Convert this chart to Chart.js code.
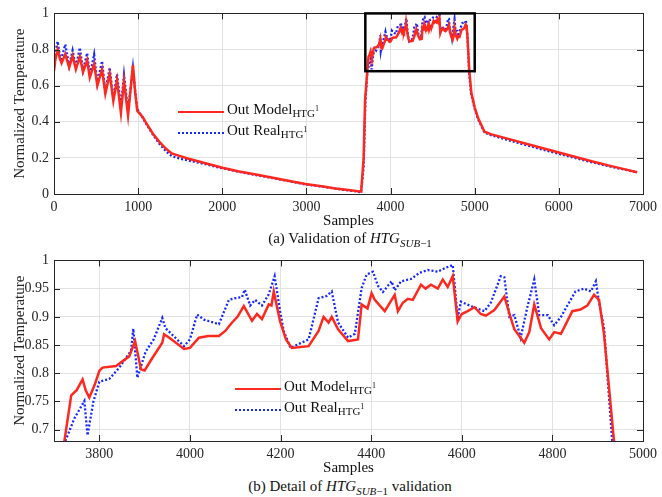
<!DOCTYPE html>
<html>
<head>
<meta charset="utf-8">
<script src="https://cdn.jsdelivr.net/npm/chart.js@4.4.1/dist/chart.umd.min.js"></script>
<style>
  body { margin: 0; background: #fff; }
  #wrap { position: relative; width: 662px; height: 497px; font-family: "Liberation Serif", "Times New Roman", Times, serif; color: #262626; }
  canvas { position: absolute; left: 0; }
  .caption { position: absolute; left: 54px; width: 592px; text-align: center; font-size: 15px; color: #111; }
  .legend { position: absolute; font-size: 15px; color: #111; }
  .legend .row { position: relative; height: 21px; white-space: nowrap; }
  .legend .swatch { position: absolute; left: 0; width: 46px; top: 10px; }
  .legend .txt { position: absolute; left: 49px; top: 0; }
  .legend sub { font-size: 11px; vertical-align: -3px; }
  .legend sup { font-size: 8px; vertical-align: 6px; }
  .caption sub { font-size: 11px; vertical-align: -4px; }
</style>
</head>
<body>
<div id="wrap">
  <canvas id="chartTop" width="662" height="230" style="top:0"></canvas>
  <canvas id="chartBottom" width="662" height="230" style="top:247px"></canvas>
  <div class="legend" style="left:178px; top:101px;">
    <div class="row"><div class="swatch" style="border-top:2.5px solid rgb(255,40,30)"></div><span class="txt">Out Model<sub>HTG<sup>1</sup></sub></span></div>
    <div class="row"><div class="swatch" style="border-top:2.5px dotted rgb(20,40,255)"></div><span class="txt">Out Real<sub>HTG<sup>1</sup></sub></span></div>
  </div>
  <div class="legend" style="left:235px; top:378px;">
    <div class="row"><div class="swatch" style="border-top:2.5px solid rgb(255,40,30)"></div><span class="txt">Out Model<sub>HTG<sup>1</sup></sub></span></div>
    <div class="row"><div class="swatch" style="border-top:2.5px dotted rgb(20,40,255)"></div><span class="txt">Out Real<sub>HTG<sup>1</sup></sub></span></div>
  </div>
  <div class="caption" style="top:230px;">(a) Validation of <i>HTG</i><sub><i>SUB</i>−1</sub></div>
  <div class="caption" style="top:478px;">(b) Detail of <i>HTG</i><sub><i>SUB</i>−1</sub> validation</div>
</div>
<script>
// Datos: muestra (x) y temperatura normalizada (y)
const modelX = [0, 15, 43, 70, 90, 134, 180, 221, 260, 307, 345, 394, 425, 477, 515, 571, 610, 662, 705, 749, 795, 832, 880, 938, 965, 990,
  1056, 1100, 1174, 1250, 1332, 1400, 1500, 1600, 1800, 2002, 2200, 2400, 2600, 2800, 2988, 3200, 3343, 3500, 3650, 3680, 3697,
  3723, 3738, 3750, 3763, 3770, 3778, 3790, 3800, 3807, 3837, 3866, 3879, 3892, 3900, 3917, 3939, 3943, 3956, 3987, 4000, 4020,
  4040, 4064, 4078, 4093, 4105, 4119, 4137, 4148, 4159, 4174, 4180, 4185, 4199, 4212, 4225, 4262, 4284, 4295, 4306, 4313, 4327,
  4349, 4371, 4379, 4392, 4401, 4408, 4430, 4452, 4459, 4470, 4481, 4492, 4510, 4520, 4532, 4547, 4558, 4569, 4580, 4591, 4600,
  4613, 4628, 4642, 4653, 4672, 4694, 4705, 4716, 4738, 4749, 4760, 4775, 4793, 4804, 4819, 4844, 4862, 4877, 4892, 4903, 4914,
  4936, 4960, 5000, 5040, 5116, 5200, 5400, 5600, 5800, 6000, 6200, 6400, 6600, 6800, 6930];
const modelY = [0.68, 0.74, 0.80, 0.75, 0.725, 0.775, 0.70, 0.765, 0.69, 0.76, 0.675, 0.74, 0.645, 0.72, 0.60, 0.69, 0.555, 0.665, 0.515, 0.63, 0.45, 0.625, 0.435, 0.715, 0.56, 0.46,
  0.425, 0.39, 0.335, 0.29, 0.25, 0.225, 0.21, 0.195, 0.17, 0.145, 0.125, 0.108, 0.09, 0.072, 0.055, 0.042, 0.031, 0.022, 0.013, 0.2, 0.52,
  0.68, 0.761, 0.77, 0.789, 0.77, 0.757, 0.78, 0.804, 0.81, 0.813, 0.83, 0.857, 0.807, 0.805, 0.827, 0.854, 0.869, 0.862, 0.843, 0.845, 0.863,
  0.866, 0.866, 0.875, 0.89, 0.90, 0.919, 0.893, 0.905, 0.896, 0.922, 0.92, 0.945, 0.892, 0.86, 0.845, 0.848, 0.875, 0.90, 0.89, 0.90, 0.878,
  0.857, 0.86, 0.922, 0.915, 0.942, 0.93, 0.91, 0.939, 0.91, 0.925, 0.932, 0.93, 0.957, 0.95, 0.957, 0.95, 0.966, 0.953, 0.972, 0.892, 0.905,
  0.91, 0.917, 0.905, 0.902, 0.912, 0.936, 0.906, 0.878, 0.854, 0.873, 0.922, 0.88, 0.86, 0.873, 0.87, 0.91, 0.913, 0.92, 0.939, 0.93, 0.869,
  0.68, 0.56, 0.48, 0.42, 0.345, 0.33, 0.305, 0.28, 0.255, 0.23, 0.205, 0.18, 0.157, 0.135, 0.12];

const realX = [0, 15, 43, 80, 134, 180, 221, 260, 307, 345, 394, 425, 477, 515, 571, 610, 662, 705, 749, 795, 832, 880, 938, 965, 990,
  1056, 1100, 1174, 1250, 1332, 1400, 1500, 1600, 1800, 2002, 2200, 2400, 2600, 2800, 2988, 3200, 3343, 3500, 3650, 3680, 3700,
  3725, 3745, 3767, 3774, 3787, 3800, 3822, 3844, 3870, 3875, 3884, 3902, 3920, 3939, 3946, 3987, 4000, 4016, 4031, 4064, 4086,
  4100, 4115, 4121, 4133, 4144, 4159, 4174, 4187, 4199, 4207, 4222, 4262, 4284, 4302, 4313, 4327, 4349, 4364, 4379, 4390, 4404,
  4415, 4426, 4445, 4452, 4466, 4488, 4507, 4525, 4547, 4562, 4580, 4591, 4598, 4620, 4650, 4664, 4686, 4694, 4705, 4716, 4730,
  4745, 4760, 4771, 4790, 4804, 4819, 4833, 4851, 4870, 4885, 4896, 4903, 4914, 4932, 4955, 5000, 5040, 5116, 5200, 5400, 5600,
  5800, 6000, 6200, 6400, 6600, 6800, 6930];
const realY = [0.70, 0.78, 0.845, 0.735, 0.828, 0.71, 0.795, 0.70, 0.81, 0.685, 0.78, 0.655, 0.773, 0.615, 0.736, 0.565, 0.70, 0.525, 0.663, 0.48, 0.66, 0.46, 0.70, 0.57, 0.47,
  0.42, 0.385, 0.33, 0.28, 0.235, 0.21, 0.195, 0.185, 0.165, 0.142, 0.123, 0.105, 0.088, 0.07, 0.053, 0.04, 0.03, 0.02, 0.01, 0.15, 0.50,
  0.68, 0.72, 0.751, 0.69, 0.75, 0.785, 0.79, 0.81, 0.84, 0.879, 0.792, 0.838, 0.86, 0.898, 0.88, 0.848, 0.86, 0.904, 0.895, 0.887, 0.93,
  0.933, 0.935, 0.948, 0.92, 0.93, 0.92, 0.94, 0.972, 0.91, 0.875, 0.845, 0.86, 0.933, 0.937, 0.945, 0.89, 0.863, 0.87, 0.951, 0.975, 0.98,
  0.955, 0.944, 0.963, 0.947, 0.963, 0.967, 0.978, 0.983, 0.98, 0.986, 0.992, 0.898, 0.927, 0.919, 0.91, 0.925, 0.972, 0.97, 0.90, 0.903, 0.863,
  0.918, 0.966, 0.903, 0.903, 0.885, 0.90, 0.92, 0.945, 0.95, 0.945, 0.963, 0.925, 0.88, 0.68, 0.56, 0.47, 0.415, 0.34, 0.325, 0.298, 0.272,
  0.247, 0.222, 0.198, 0.175, 0.153, 0.133, 0.12];

// Marcas de los ejes
const xTicksTop = [0, 1000, 2000, 3000, 4000, 5000, 6000, 7000];
const yTicksTop = [0, 0.2, 0.4, 0.6, 0.8, 1];
const xTicksBottom = [3800, 4000, 4200, 4400, 4600, 4800, 5000];
const yTicksBottom = [0.7, 0.75, 0.8, 0.85, 0.9, 0.95, 1];

// Rango del detalle (recuadro negro en la figura de arriba)
const detailRange = { xMin: 3700, xMax: 5000, yMin: 0.68, yMax: 1 };

const modelColor = 'rgb(255, 40, 30)';
const realColor = 'rgb(20, 40, 255)';

Chart.defaults.font.family = '"Liberation Serif", "Times New Roman", Times, serif';
Chart.defaults.color = '#262626';

function toPoints(xs, ys) {
    return xs.map((x, i) => ({ x: x, y: ys[i] }));
}

// Marco tipo MATLAB con marcas hacia dentro y recuadro opcional
const framePlugin = {
    id: 'frame',
    afterDatasetsDraw(chart, args, opts) {
        const { ctx, chartArea: a, scales } = chart;
        ctx.save();
        ctx.strokeStyle = '#262626';
        ctx.lineWidth = 1;
        ctx.strokeRect(Math.round(a.left) + 0.5, Math.round(a.top) + 0.5, Math.round(a.right - a.left), Math.round(a.bottom - a.top));
        ctx.beginPath();
        scales.x.ticks.forEach(t => {
            const px = Math.round(scales.x.getPixelForValue(t.value)) + 0.5;
            ctx.moveTo(px, a.bottom); ctx.lineTo(px, a.bottom - 6);
            ctx.moveTo(px, a.top); ctx.lineTo(px, a.top + 6);
        });
        scales.y.ticks.forEach(t => {
            const py = Math.round(scales.y.getPixelForValue(t.value)) + 0.5;
            ctx.moveTo(a.left, py); ctx.lineTo(a.left + 6, py);
            ctx.moveTo(a.right, py); ctx.lineTo(a.right - 6, py);
        });
        ctx.stroke();
        if (opts.box) {
            const b = opts.box;
            const x0 = scales.x.getPixelForValue(b.xMin), x1 = scales.x.getPixelForValue(b.xMax);
            const y0 = scales.y.getPixelForValue(b.yMax), y1 = scales.y.getPixelForValue(b.yMin);
            ctx.strokeStyle = '#000';
            ctx.lineWidth = 2.5;
            ctx.strokeRect(x0, y0, x1 - x0, y1 - y0);
        }
        ctx.restore();
    }
};

function makeChart(id, xRange, yRange, xTicks, yTicks, yLabel, box) {
    const ctx = document.getElementById(id).getContext('2d');
    return new Chart(ctx, {
        type: 'line',
        data: {
            datasets: [{
                label: 'Out Model',
                data: toPoints(modelX, modelY),
                borderColor: modelColor,
                borderWidth: 2.5,
                pointRadius: 0,
                tension: 0,
                clip: 0
            }, {
                label: 'Out Real',
                data: toPoints(realX, realY),
                borderColor: realColor,
                borderWidth: 2.3,
                borderDash: [2, 2],
                pointRadius: 0,
                tension: 0,
                clip: 0
            }]
        },
        options: {
            responsive: false,
            animation: false,
            layout: { padding: { top: 12, right: 16, left: 0, bottom: 0 } },
            plugins: {
                legend: { display: false },
                tooltip: { enabled: false },
                frame: { box: box }
            },
            scales: {
                x: {
                    type: 'linear',
                    min: xRange[0],
                    max: xRange[1],
                    afterBuildTicks: s => { s.ticks = xTicks.map(v => ({ value: v })); },
                    afterFit: s => { s.height = 36; },
                    grid: { color: '#e2e2e2', drawTicks: false },
                    border: { display: false },
                    ticks: { font: { size: 14 }, padding: 5, maxRotation: 0, callback: v => String(v) },
                    title: { display: true, text: 'Samples', font: { size: 15 }, padding: { top: 0, bottom: 0 }, color: '#111' }
                },
                y: {
                    min: yRange[0],
                    max: yRange[1],
                    afterBuildTicks: s => { s.ticks = yTicks.map(v => ({ value: v })); },
                    afterFit: s => { s.width = 54; },
                    grid: { color: '#e2e2e2', drawTicks: false },
                    border: { display: false },
                    ticks: { font: { size: 14 }, padding: 5, callback: v => String(v) },
                    title: { display: true, text: yLabel, font: { size: 15 }, padding: { top: 11, bottom: 0 } }
                }
            }
        },
        plugins: [framePlugin]
    });
}

makeChart('chartTop', [0, 7000], [0, 1], xTicksTop, yTicksTop, 'Normalized Temperature', detailRange);
makeChart('chartBottom', [detailRange.xMin, detailRange.xMax], [detailRange.yMin, detailRange.yMax], xTicksBottom, yTicksBottom, 'Normalized Temperature', null);
</script>
</body>
</html>
